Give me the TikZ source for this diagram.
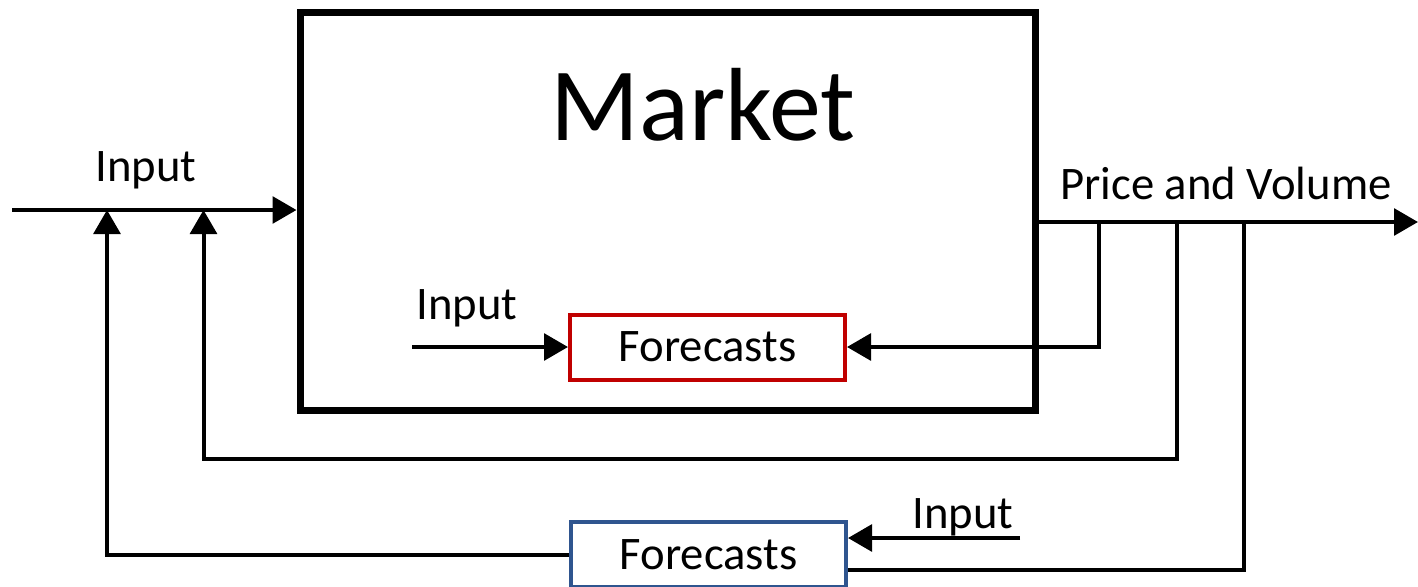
\documentclass[tikz,border=0pt]{standalone}
\usepackage{fontspec}
\setmainfont{Carlito}
\usetikzlibrary{arrows.meta}
\definecolor{fcred}{RGB}{192,0,0}
\definecolor{fcblue}{RGB}{47,85,143}
\tikzset{
  line/.style={line width=3pt},
  flow/.style={line, -{Triangle[length=18pt,width=20pt]}},
  mktbox/.style={draw, line width=5.25pt, inner sep=0pt, minimum width=551.25pt, minimum height=298.5pt},
  fcbox/.style={draw, line width=3pt, inner sep=0pt, minimum width=206.25pt, minimum height=48.75pt, font=\lbl},
  tag/.style={font=\lbl, inner sep=0pt}
}
\newcommand{\lbl}{\fontsize{35}{42}\selectfont}
\newcommand{\mkfont}{\fontsize{78}{90}\selectfont}
\begin{document}
\begin{tikzpicture}[x=0.75pt,y=0.75pt,yscale=-1,xscale=1]
\useasboundingbox (0,0) rectangle (1418,586);
%Shape: Rectangle
\node[mktbox] (mkt) at (667.5,211) {};
\node[font=\mkfont, inner sep=0pt] (mkttxt) at (703,105) {Market};
%Shape: Rectangle
\node[fcbox, draw=fcred] (fcin) at (707.5,347) {Forecasts};
\node[fcbox, draw=fcblue] (fcout) at (708.5,554.5) {Forecasts};
% Text Node
\node[tag] (intop) at (146,170) {Input};
\node[tag] (inmid) at (467,308) {Input};
\node[tag] (inlow) at (963,517) {Input};
\node[tag] (pv) at (1226,183) {Price and Volume};
% Points
\coordinate (src) at (12,210);
\coordinate (sink) at (1418,222);
\coordinate (fba) at (203.5,210);
\coordinate (fbb) at (107,210);
\coordinate (tapa) at (1099,222);
\coordinate (tapb) at (1177,222);
\coordinate (tapc) at (1244,222);
\coordinate (rowa) at (0,458.5);
\coordinate (rowb) at (0,570);
\coordinate (inmidst) at (412,347);
\coordinate (inlowst) at (1020,538);
%Straight Lines
\draw[flow] (src) -- (mkt.west |- src);
\draw[flow] (mkt.east |- sink) -- (sink);
\draw[flow] (tapa) |- (fcin.east);
\draw[flow] (tapb) |- (fba |- rowa) -- (fba);
\draw[line] (tapc) |- (fcout.east |- rowb);
\draw[flow] (inmidst) -- (fcin.west);
\draw[flow] (inlowst) -- (fcout.east |- inlowst);
\draw[flow] (fcout.west) -| (fbb);
\end{tikzpicture}
\end{document}
